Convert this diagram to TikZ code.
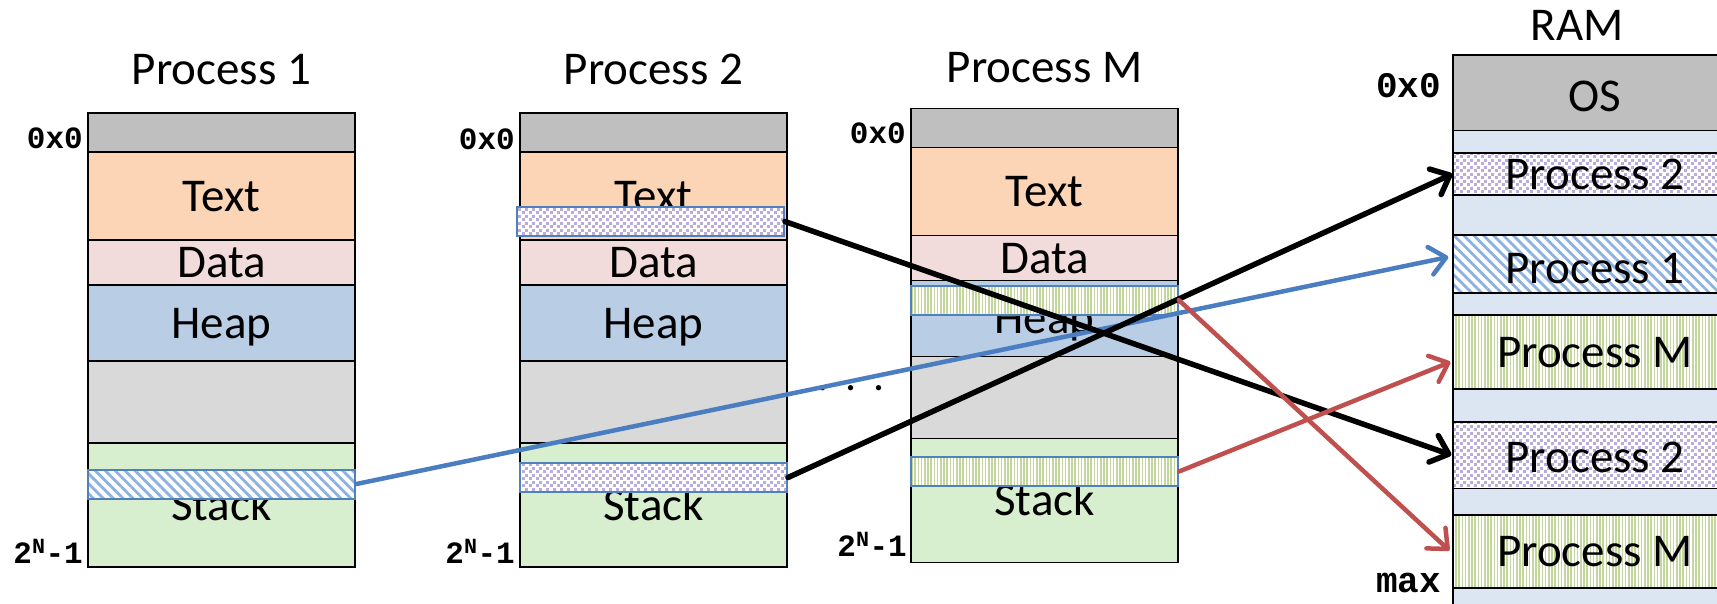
\documentclass[tikz,border=0pt]{standalone}
\usepackage{fontspec}
\setmainfont{Carlito}
\newfontfamily\monof{Liberation Mono}
\usetikzlibrary{arrows.meta,patterns.meta,calc}

\definecolor{cgray}{RGB}{191,191,191}
\definecolor{corange}{RGB}{251,213,181}
\definecolor{cpink}{RGB}{242,220,219}
\definecolor{cheap}{RGB}{185,205,229}
\definecolor{cgap}{RGB}{217,217,217}
\definecolor{cstack}{RGB}{215,238,207}
\definecolor{cram}{RGB}{220,230,242}
\definecolor{bandblue}{RGB}{79,129,189}
\definecolor{hatchblue}{RGB}{141,178,226}
\definecolor{lav}{RGB}{185,172,220}
\definecolor{stripegreen}{RGB}{195,214,155}
\definecolor{arrblue}{RGB}{74,126,193}
\definecolor{arrred}{RGB}{192,80,77}

\tikzdeclarepattern{
  name=checkdots,
  type=uncolored,
  bottom left={(-.1pt,-.1pt)},
  top right={(7.1pt,7.1pt)},
  tile size={(7pt,7pt)},
  code={
    \fill (0pt,0pt) rectangle (3pt,3pt);
    \fill (3.5pt,3.5pt) rectangle (6.5pt,6.5pt);
  }
}

\tikzset{
  seg/.style={draw=black, line width=1.3pt, minimum width=267pt, inner sep=0pt,
    text height=30pt, text depth=0pt, font=\fontsize{47}{52}\selectfont},
  ramseg/.style={draw=black, line width=1.3pt, minimum width=284pt, inner sep=0pt,
    text height=30pt, text depth=0pt, font=\fontsize{47}{52}\selectfont},
  band/.style={draw=bandblue, line width=2pt, minimum width=267pt, minimum height=29pt, inner sep=0pt},
  hatchfill/.style={preaction={fill=white}, pattern={Lines[angle=-45,distance=7pt,line width=2.8pt]}, pattern color=hatchblue},
  checkfill/.style={preaction={fill=white}, pattern=checkdots, pattern color=lav},
  stripefill/.style={preaction={fill=white}, pattern={Lines[angle=90,distance=3.2pt,line width=1.5pt]}, pattern color=stripegreen},
  title/.style={anchor=base, inner sep=0pt, font=\fontsize{47}{52}\selectfont},
  addr/.style={anchor=base east, inner sep=0pt, font=\monof\bfseries\fontsize{31}{34}\selectfont},
  raddr/.style={anchor=base east, inner sep=0pt, font=\monof\bfseries\fontsize{36}{40}\selectfont},
  maparrow/.style={line width=#1, line cap=round, -{Straight Barb[length=16pt,width=28pt,line cap=round,line join=round]}},
}

\newcommand\memcol[3]{%
  \node[seg, fill=cgray, minimum height=39pt] (#1os) at (#2,#3+19.5) {};
  \node[seg, fill=corange, minimum height=88pt] (#1text) at (#2,#3+83) {Text};
  \node[seg, fill=cpink, minimum height=45pt] (#1data) at (#2,#3+149.5) {Data};
  \node[seg, fill=cheap, minimum height=76pt] (#1heap) at (#2,#3+210) {Heap};
  \node[seg, fill=cgap, minimum height=82pt] (#1free) at (#2,#3+289) {};
  \node[seg, fill=cstack, minimum height=124pt] (#1stack) at (#2,#3+392) {Stack};
}

\begin{document}
\begin{tikzpicture}[x=1pt,y=-1pt]
\useasboundingbox (0,0) rectangle (1717,603);

% process columns
\memcol{pa}{221.5}{113}
\memcol{pb}{653.5}{113}
\memcol{pm}{1044.5}{108.5}

% bands
\node[band, hatchfill] (paband) at (221.5,484) {};
\node[band, checkfill] (pbtband) at (650.5,221.5) {};
\node[band, checkfill] (pbsband) at (653.5,477.5) {};
\node[band, stripefill] (pmband1) at (1044.5,300) {};
\node[band, stripefill] (pmband2) at (1044.5,471.5) {};

% RAM
\node[ramseg, fill=cgray, minimum height=83pt] (ramos) at (1595,96.5) {OS};
\node[ramseg, fill=cram, minimum height=15pt] (gap1) at (1595,145.5) {};
\node[ramseg, checkfill, minimum height=42pt] (ramb1) at (1595,174) {Process 2};
\node[ramseg, fill=cram, minimum height=40pt] (gap2) at (1595,215) {};
\node[ramseg, hatchfill, minimum height=66pt] (rama) at (1595,268) {Process 1};
\node[ramseg, fill=cram, minimum height=14pt] (gap3) at (1595,308) {};
\node[ramseg, stripefill, minimum height=74pt] (ramm1) at (1595,352) {Process M};
\node[ramseg, fill=cram, minimum height=33pt] (gap4) at (1595,405.5) {};
\node[ramseg, checkfill, minimum height=70pt] (ramb2) at (1595,457) {Process 2};
\node[ramseg, fill=cram, minimum height=23pt] (gap5) at (1595,503.5) {};
\node[ramseg, stripefill, minimum height=73pt] (ramm2) at (1595,551.5) {Process M};
\node[ramseg, fill=cram, minimum height=30pt] (gap6) at (1595,603) {};

% titles
\node[title] (t1) at (221.5,84) {Process 1};
\node[title] (t2) at (653.5,84) {Process 2};
\node[title] (tm) at (1044.5,82) {Process M};
\node[title] (tr) at (1577,40) {RAM};

% address labels
\node[addr] (a1) at (83,148) {0x0};
\node[addr] (b1) at (83,563) {2\textsuperscript{N}-1};
\node[addr] (a2) at (515,149) {0x0};
\node[addr] (b2) at (515,563) {2\textsuperscript{N}-1};
\node[addr] (a3) at (906,143) {0x0};
\node[addr] (b3) at (907,556) {2\textsuperscript{N}-1};
\node[raddr] (a4) at (1441,97) {0x0};
\node[raddr] (b4) at (1441,592) {max};

% dots
\node[inner sep=0pt, font=\fontsize{44}{50}\selectfont] (dots) at (851,388) {.\hspace{17pt}.\hspace{17pt}.};

% arrows
\draw[maparrow=4.5pt, arrblue] (paband.east) -- ($(rama.west)+(-4,-11)$);
\draw[maparrow=5.5pt, black] (pbtband.east) -- ($(ramb2.west)+(-1,-2)$);
\draw[maparrow=5.5pt, black] (pbsband.east) -- (ramb1.west);
\draw[maparrow=4.5pt, arrred] (pmband1.east) -- ($(ramm2.west)+(-3,-1)$);
\draw[maparrow=4.5pt, arrred] (pmband2.east) -- ($(ramm1.west)+(-2,10)$);
\end{tikzpicture}
\end{document}
